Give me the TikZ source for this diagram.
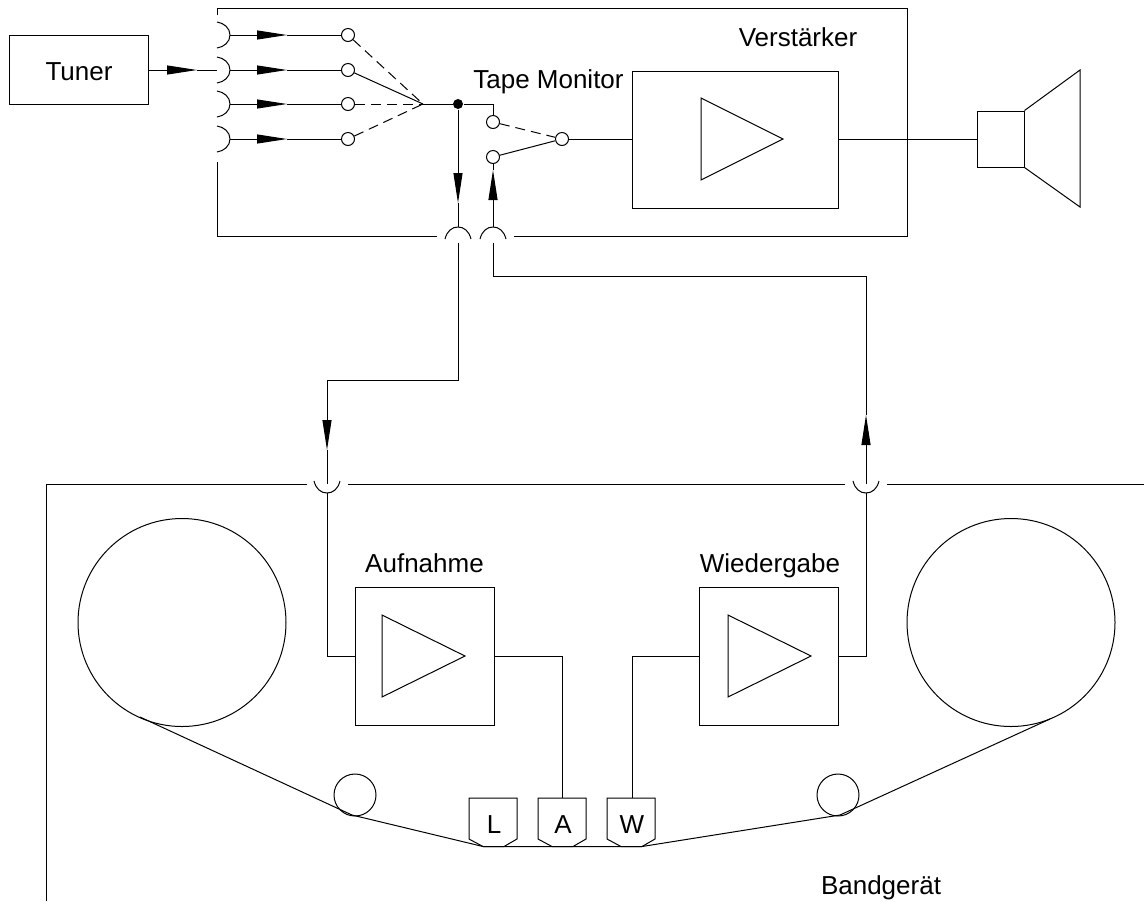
\documentclass[tikz,border=0pt]{standalone}
\usepackage{fontspec}
\setmainfont{Liberation Sans}
\usetikzlibrary{arrows.meta, calc, positioning}
\tikzset{
  ampbox/.style={draw, inner sep=0pt, minimum width=69.5pt, minimum height=69pt},
  reel/.style={circle, draw, inner sep=0pt, minimum size=#1},
  contact/.style={circle, draw, fill=white, inner sep=0pt, minimum size=6.5pt},
  switched/.style={dash pattern=on 5pt off 3pt},
  textlabel/.style={inner sep=0pt, anchor=base},
  flow/.style={->}
}
\begin{document}
\begin{tikzpicture}[x=0.5pt, y=-0.5pt, >={Triangle[length=15pt, width=4.5pt]}, line width=0.5pt, font=\fontsize{13pt}{15pt}\selectfont]
  \useasboundingbox (0,0) rectangle (1144,901);
  % Verstaerker
  \node[draw, inner sep=0pt, minimum width=69.5pt, minimum height=34.5pt] (tuner) at (78.5,69.5) {};
  \node[textlabel] (ltuner) at (79,80) {Tuner};
  \draw (217,15) -- (217,8) -- (907,8) -- (907,236) -- (514,236);
  \draw (437,236) -- (217,236) -- (217,162);
  \node[textlabel] (lverst) at (798,46) {Verst\"arker};
  \node[textlabel] (lmon) at (548.5,88) {Tape Monitor};
  \coordinate (com) at (423,104);
  \foreach \i/\y in {1/35,2/70,3/104,4/139} {
    \draw (217,{\y-13}) .. controls (224,{\y-12}) and (230,{\y-7}) .. (230,\y) .. controls (230,{\y+7}) and (224,{\y+12}) .. (217,{\y+13});
    \coordinate (sock\i) at (230,\y);
    \coordinate (tip\i) at (287,\y);
    \node[contact] (in\i) at (348,\y) {};
    \draw[flow] (sock\i) -- (tip\i);
    \draw (tip\i) -- (in\i);
  }
  \draw[switched] (in1) -- (com);
  \draw (in2) -- (com);
  \draw[switched] (in3) -- (com);
  \draw[switched] (in4) -- (com);
  \coordinate (tunerend) at (217,70);
  \coordinate (tunertip) at (197,70);
  \draw[flow] (tuner.east |- tunertip) -- (tunertip);
  \draw (tunertip) -- (tunerend);
  \node[circle, fill=black, inner sep=0pt, minimum size=5pt] (junc) at (458,104) {};
  \node[contact] (mon1) at (493,122) {};
  \node[contact] (mon2) at (493,157) {};
  \node[contact] (mon) at (562,139) {};
  \draw (com) -- (junc) -| (mon1);
  \draw[switched] (mon1) -- (mon);
  \draw (mon2) -- (mon);
  \node[draw, inner sep=0pt, minimum width=103pt, minimum height=68.5pt] (amp) at (735,139.5) {};
  \draw (mon) -- (amp.west |- mon);
  \draw (701,98) -- (701,180) -- (783,139) -- cycle;
  \node[draw, inner sep=0pt, minimum width=23.5pt, minimum height=28pt] (box) at (1000.5,139) {};
  \draw (amp.east |- box.west) -- (box.west);
  \draw (box.north east) -- (1080,70) -- (1080,207) -- (box.south east);
  % Buchsen
  \foreach \x in {458,493} {
    \draw (\x-13,239) .. controls (\x-11,231) and (\x-6,227) .. (\x,227) .. controls (\x+6,227) and (\x+11,231) .. (\x+13,239);
  }
  \coordinate (rectip) at (458,203);
  \coordinate (rectop) at (458,227);
  \coordinate (recout) at (458,243);
  \coordinate (recbend) at (327,380);
  \coordinate (rectape) at (327,450);
  \coordinate (recsock) at (327,484);
  \coordinate (recfoot) at (327,493);
  \draw[flow] (junc) -- (rectip);
  \draw (rectip) -- (rectop);
  \draw (recout) |- (recbend);
  \draw[flow] (recbend) -- (rectape);
  \draw (rectape) -- (recsock);
  \coordinate (pbtop) at (493,227);
  \coordinate (pbtip) at (493,170);
  \coordinate (pbout) at (493,243);
  \coordinate (pbbend) at (866,276);
  \coordinate (pbup) at (866,415);
  \coordinate (pbsock) at (866,484);
  \coordinate (pbfoot) at (866,493);
  \draw[flow] (pbtop) -- (pbtip);
  \draw (pbtip) -- (mon2);
  \draw (pbout) |- (pbbend);
  \draw (pbbend) -- (pbup);
  \draw[flow] (pbsock) -- (pbup);
  % Bandgeraet
  \draw (46,901) -- (46,484) -- (307,484);
  \draw (348,484) -- (845,484);
  \draw (887,484) -- (1144,484);
  \foreach \x in {327,866} {
    \draw (\x-13,481) .. controls (\x-11,489) and (\x-6,493) .. (\x,493) .. controls (\x+6,493) and (\x+11,489) .. (\x+13,481);
  }
  \node[reel=104pt] (reell) at (182,622.5) {};
  \node[reel=104pt] (reelr) at (1011,622.5) {};
  \node[reel=21pt] (guidel) at (355,795) {};
  \node[reel=21pt] (guider) at (838,795) {};
  \node[ampbox] (rec) at (424.5,656) {};
  \node[ampbox] (play) at (769,656) {};
  \draw (382,615) -- (382,697) -- (465,656) -- cycle;
  \draw (728,615) -- (728,697) -- (811,656) -- cycle;
  \node[textlabel] (lrec) at (424.5,572) {Aufnahme};
  \node[textlabel] (lplay) at (770,572) {Wiedergabe};
  \node[textlabel] (lband) at (881,894) {Bandger\"at};
  \foreach \n/\t/\x in {hl/L/469,ha/A/538,hw/W/607} {
    \draw (\x,798) -- (\x+48,798) -- (\x+48,839) -- (\x+35,846.5) -- (\x+14,846.5) -- (\x,839) -- cycle;
    \node[textlabel] (\n) at (\x+25,833) {\t};
  }
  \coordinate (headA) at (562,798);
  \coordinate (headW) at (632,798);
  \draw (recfoot) |- (rec.west);
  \draw (rec.east) -| (headA);
  \draw (headW) |- (play.west);
  \draw (play.east) -| (pbfoot);
  \draw (140,717) -- (352,815) -- (483,846.5) -- (642,846.5) -- (840,815) -- (1050,719);
\end{tikzpicture}
\end{document}
